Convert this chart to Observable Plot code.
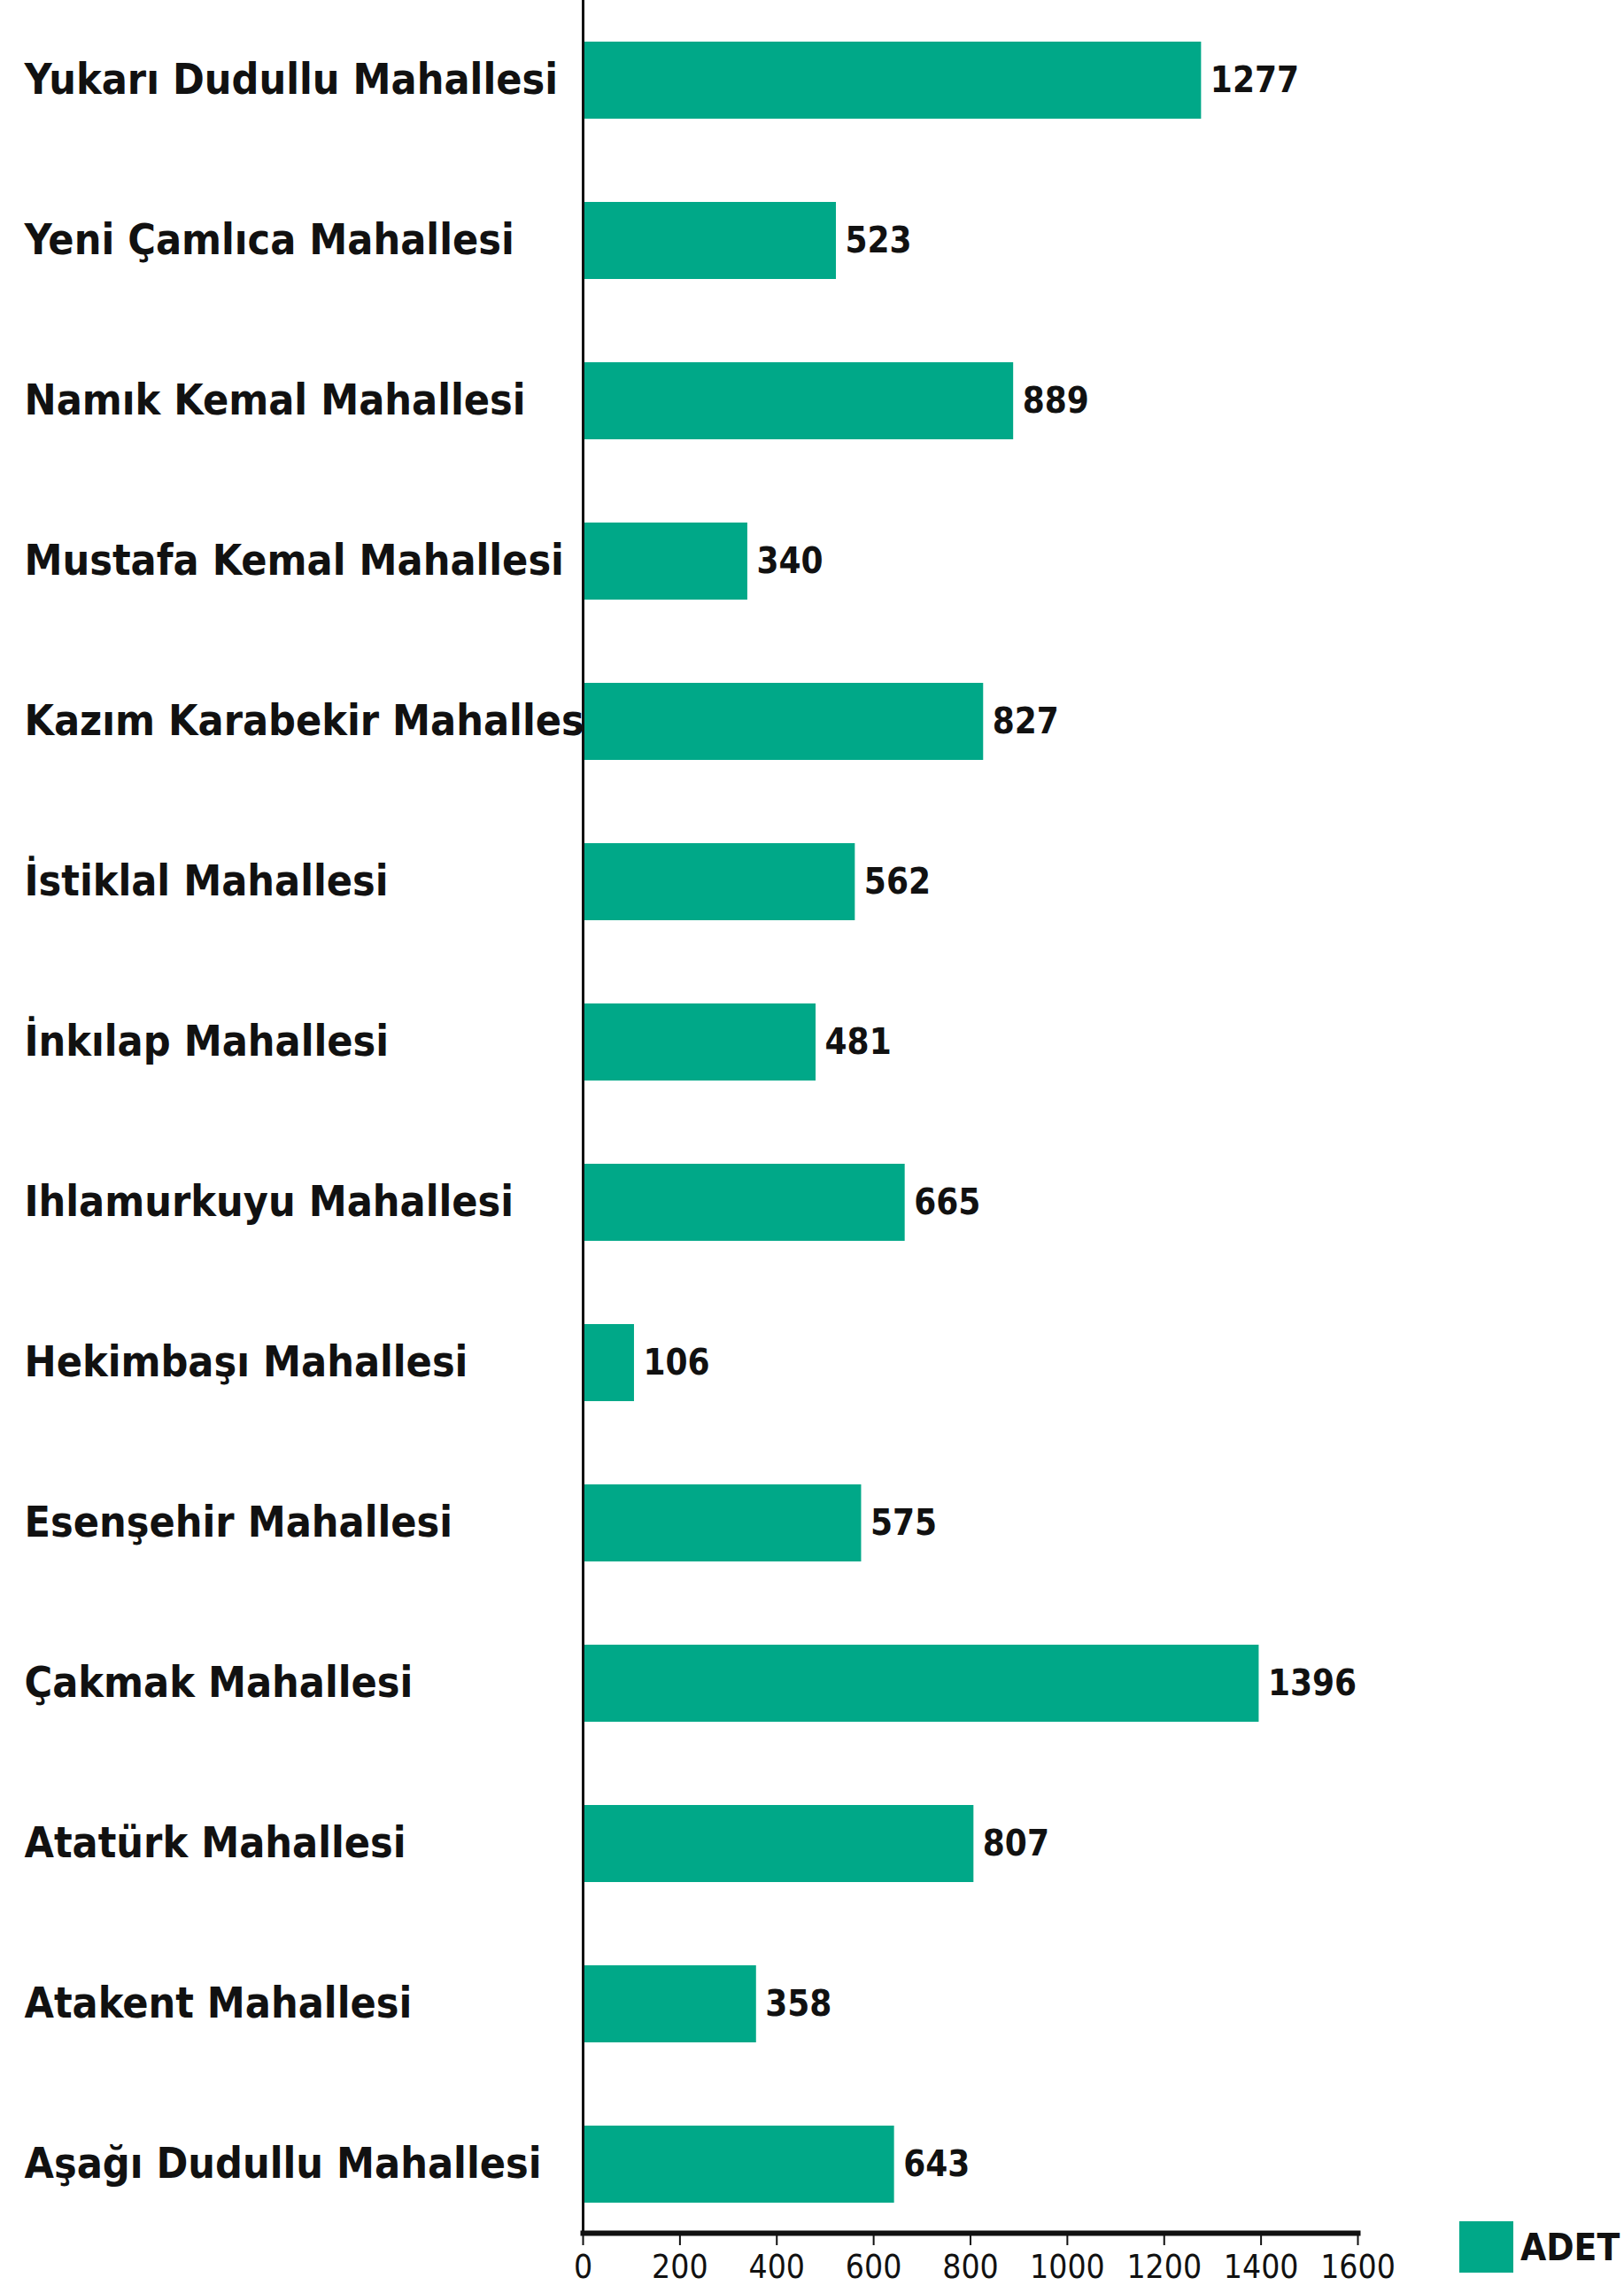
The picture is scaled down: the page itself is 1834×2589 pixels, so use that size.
<!DOCTYPE html>
<html>
<head>
<meta charset="utf-8">
<script src="https://cdn.jsdelivr.net/npm/d3@7"></script>
<script src="https://cdn.jsdelivr.net/npm/@observablehq/plot@0.6"></script>
<style>
  html, body { margin: 0; padding: 0; background: #fff; }
  #wrap { position: relative; width: 1834px; height: 2589px; }
  #legend { position: absolute; left: 1648px; top: 2508px; display: flex; align-items: center;
    font-family: "DejaVu Sans Condensed", "DejaVu Sans", sans-serif; font-weight: bold; font-size: 42px; color: #111; }
  #legend .sw { width: 61px; height: 58px; background: #00a888; margin-right: 8px; }
</style>
</head>
<body>
<div id="wrap"><div id="legend"><div class="sw"></div><span>ADET</span></div></div>
<script>
const names = [
  "Yukarı Dudullu Mahallesi",
  "Yeni Çamlıca Mahallesi",
  "Namık Kemal Mahallesi",
  "Mustafa Kemal Mahallesi",
  "Kazım Karabekir Mahallesi",
  "İstiklal Mahallesi",
  "İnkılap Mahallesi",
  "Ihlamurkuyu Mahallesi",
  "Hekimbaşı Mahallesi",
  "Esenşehir Mahallesi",
  "Çakmak Mahallesi",
  "Atatürk Mahallesi",
  "Atakent Mahallesi",
  "Aşağı Dudullu Mahallesi"
];
const values = [1277, 523, 889, 340, 827, 562, 481, 665, 106, 575, 1396, 807, 358, 643];
const xTicks = [0, 200, 400, 600, 800, 1000, 1200, 1400, 1600];
const seriesName = "ADET";
const barColor = "#00a888";

const data = names.map((n, i) => ({name: n, value: values[i]}));
const font = "DejaVu Sans Condensed, DejaVu Sans, sans-serif";

const marginLeft = 658;
const chart = Plot.plot({
  width: 1834,
  height: 2589,
  marginLeft,
  marginRight: 301,
  marginTop: 0,
  marginBottom: 68,
  style: {background: "#fff", color: "#111"},
  x: {domain: [0, 1600], ticks: xTicks, label: null},
  y: {domain: names, padding: 0.52, paddingOuter: 0.21, align: 0.58, label: null},
  marks: [
    Plot.axisY({
      tickSize: 0,
      textAnchor: "start",
      dx: -(marginLeft - 36),
      fontSize: 48,
      fontFamily: font,
      fontWeight: "bold",
      fill: "#111",
      label: null
    }),
    Plot.barX(data, {x: "value", y: "name", fill: barColor}),
    Plot.text(data, {
      x: "value", y: "name", text: d => String(d.value),
      textAnchor: "start", dx: 10, fontSize: 40,
      fontFamily: font, fontWeight: "bold", fill: "#111"
    }),
    Plot.ruleX([0], {stroke: "#111", strokeWidth: 3}),
    Plot.frame({anchor: "bottom", stroke: "#111", strokeWidth: 6}),
    Plot.axisX({
      ticks: xTicks, tickFormat: d => String(d), tickSize: 14, tickPadding: 10, strokeWidth: 2,
      fontSize: 37, fontFamily: font,
      fill: "#111", label: null
    })
  ]
});
document.getElementById("wrap").prepend(chart);
</script>
</body>
</html>
